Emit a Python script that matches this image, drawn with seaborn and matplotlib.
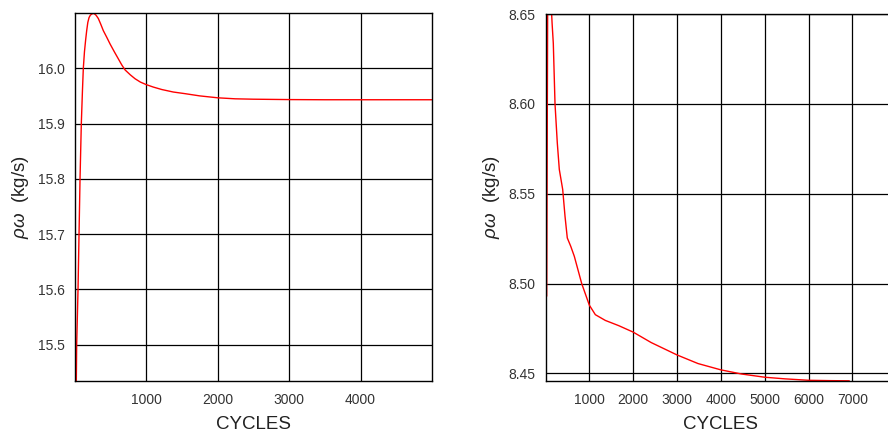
import matplotlib
matplotlib.use("Agg")
import matplotlib.pyplot as plt
import seaborn as sns
import pandas as pd

# ---- data ----
left_cycles = [0, 12, 24, 29, 48, 62, 76, 94, 110, 122, 138, 155, 169, 185, 202, 220,
               239, 255, 272, 300, 332, 365, 402, 450, 496, 555, 612, 660, 706, 780,
               846, 920, 1000, 1100, 1220, 1380, 1546, 1750, 2004, 2247, 2500, 3000,
               3500, 4000, 4500, 5000]
left_flow = [16.6, 15.2, 15.434, 15.5, 15.6, 15.7, 15.8, 15.9, 15.96, 16.0, 16.03,
             16.052, 16.068, 16.083, 16.0917, 16.096, 16.098, 16.099, 16.099, 16.096,
             16.090, 16.080, 16.068, 16.056, 16.044, 16.030, 16.017, 16.006, 15.997,
             15.988, 15.981, 15.975, 15.9705, 15.966, 15.9615, 15.957, 15.954,
             15.950, 15.9465, 15.9447, 15.9440, 15.9433, 15.943, 15.943, 15.943,
             15.943]

right_cycles = [0, 27, 60, 100, 130, 150, 178, 217, 269, 315, 392, 445, 497, 575,
                657, 826, 1000, 1137, 1365, 1670, 2000, 2410, 3000, 3480, 4000, 4470,
                5000, 5460, 6000, 6500, 6930]
right_flow = [8.96, 8.493, 8.73, 8.68, 8.655, 8.645, 8.6337, 8.60, 8.5783, 8.5635,
              8.5524, 8.5375, 8.5254, 8.5208, 8.5152, 8.50, 8.4880, 8.4827, 8.4795,
              8.4766, 8.4730, 8.4672, 8.4603, 8.4555, 8.4520, 8.4497, 8.4479,
              8.4470, 8.4462, 8.4460, 8.4459]

left_xticks = [1000, 2000, 3000, 4000]
left_yticks = [15.5, 15.6, 15.7, 15.8, 15.9, 16.0]
right_xticks = [1000, 2000, 3000, 4000, 5000, 6000, 7000]
right_yticks = [8.45, 8.50, 8.55, 8.60, 8.65]

x_label = "CYCLES"
y_label = r"$\rho\omega$  (kg/s)"

# ---- style ----
sns.set_style("white")
plt.rcParams["font.family"] = ["Liberation Sans", "DejaVu Sans"]
plt.rcParams["mathtext.fontset"] = "custom"
plt.rcParams["mathtext.it"] = "Liberation Sans:italic"
plt.rcParams["mathtext.rm"] = "Liberation Sans"

fig = plt.figure(figsize=(8.88, 4.34), dpi=100)
ax1 = fig.add_axes([74.6 / 888, 53 / 434, 357.4 / 888, 368 / 434])
ax2 = fig.add_axes([545.5 / 888, 53 / 434, 350.7 / 888, 367 / 434])

df1 = pd.DataFrame({"cycles": left_cycles, "flow": left_flow})
df2 = pd.DataFrame({"cycles": right_cycles, "flow": right_flow})

sns.lineplot(data=df1, x="cycles", y="flow", ax=ax1, color="red", linewidth=1.0)
sns.lineplot(data=df2, x="cycles", y="flow", ax=ax2, color="red", linewidth=1.0)

ax1.set_xlim(0, 5000)
ax1.set_ylim(15.434, 16.1)
ax1.set_xticks(left_xticks)
ax1.set_yticks(left_yticks)
ax1.set_yticklabels([f"{v:.1f}" for v in left_yticks])

ax2.set_xlim(0, 8000)
ax2.set_ylim(8.4458, 8.65)
ax2.set_xticks(right_xticks)
ax2.set_yticks(right_yticks)
ax2.set_yticklabels([f"{v:.2f}" for v in right_yticks])

for ax in (ax1, ax2):
    ax.grid(True, color="black", linewidth=0.9)
    ax.set_axisbelow(True)
    for s in ax.spines.values():
        s.set_color("black")
        s.set_linewidth(1.0)
    ax.tick_params(axis="both", which="major", direction="out", length=5,
                   width=0.9, color="black", labelsize=10, labelcolor="#333333", pad=2)
    ax.tick_params(axis="x", length=4, pad=5)
    ax.set_xlabel(x_label, fontsize=13.5, color="#222222", labelpad=6)
    ax.set_ylabel(y_label, fontsize=13.5, color="#222222", labelpad=5)

fig.savefig("out.png", dpi=100)
